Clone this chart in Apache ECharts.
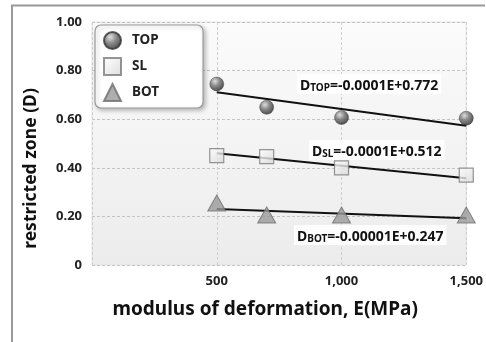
<!DOCTYPE html>
<html><head><meta charset="utf-8">
<script src="https://cdn.jsdelivr.net/npm/echarts@6/dist/echarts.min.js"></script>
<style>html,body{margin:0;padding:0;background:#fff}#c{width:486px;height:342px}</style>
</head><body><div id="c"></div>
<script>
const categoriesE = [500, 700, 1000, 1500];
const topValues = [0.745, 0.649, 0.607, 0.604];
const slValues = [0.450, 0.446, 0.400, 0.370];
const botValues = [0.255, 0.206, 0.206, 0.206];
const trendE = [500, 1500];
const topTrend = [0.711, 0.573];
const slTrend = [0.460, 0.357];
const botTrend = [0.230, 0.192];
const yTicks = [0, 0.2, 0.4, 0.6, 0.8, 1.0];
const xTicks = [500, 1000, 1500];

const FONT = '"Noto Sans", "Open Sans", sans-serif';
const pair = (xs, ys) => xs.map((x, i) => [x, ys[i]]);

const sphere = {type:'radial', x:0.38, y:0.32, r:0.75, colorStops:[
  {offset:0, color:'#d8d8d8'}, {offset:0.45, color:'#6a6a6a'}, {offset:1, color:'#1a1a1a'}]};
const sqFill = {type:'linear', x:0, y:0, x2:1, y2:1, colorStops:[
  {offset:0, color:'#ffffff'}, {offset:1, color:'#d6d6d6'}]};

const chart = echarts.init(document.getElementById('c'), null, {renderer:'canvas'});
const option = {
  animation:false,
  backgroundColor:'#fff',
  grid:{left:92, right:16, top:22, bottom:77, show:true, borderWidth:1, borderColor:'#e2e2e2',
    backgroundColor:{type:'linear', x:0, y:0, x2:0, y2:1, colorStops:[
      {offset:0, color:'#fbfbfb'}, {offset:1, color:'#ececec'}]}},
  xAxis:{type:'value', min:0, max:1500, interval:500,
    axisLine:{show:false}, axisTick:{show:false},
    splitLine:{show:true, lineStyle:{color:'#cfcfcf', type:[3,2], width:1}},
    axisLabel:{margin:10, fontFamily:FONT, fontWeight:'bold', fontSize:13, color:'#222',
      formatter:v => xTicks.includes(v) ? v.toLocaleString('en-US') : ''},
    name:'modulus of deformation, E(MPa)', nameLocation:'middle', nameGap:35,
    nameTextStyle:{fontFamily:FONT, fontWeight:'bold', fontSize:19, color:'#111', padding:[0,0,0,-28]}},
  yAxis:{type:'value', min:0, max:1, interval:0.2,
    axisLine:{show:false}, axisTick:{show:false},
    splitLine:{show:true, lineStyle:{color:'#c4c4c4', type:[3,2], width:1}},
    axisLabel:{margin:10, fontFamily:FONT, fontWeight:'bold', fontSize:13, color:'#222',
      formatter:v => { const t = yTicks.find(k => Math.abs(k - v) < 1e-6); return t === 0 ? '0' : (t !== undefined ? t.toFixed(2) : ''); }},
    name:'restricted zone (D)', nameLocation:'middle', nameGap:52,
    nameTextStyle:{fontFamily:FONT, fontWeight:'bold', fontSize:17.5, color:'#111', padding:[0,50,0,0]}},
  legend:{left:95, top:25, orient:'vertical', data:['TOP','SL','BOT'],
    backgroundColor:'#fff', borderColor:'#9a9a9a', borderWidth:1.2, borderRadius:6,
    shadowColor:'rgba(0,0,0,0.25)', shadowBlur:4, shadowOffsetX:2, shadowOffsetY:2,
    padding:[6,44,6,8], itemGap:7, itemWidth:17, itemHeight:17,
    textStyle:{fontFamily:FONT, fontWeight:'bold', fontSize:13.5, color:'#222', padding:[0,0,0,6]}},
  series:[
    {name:'TOP', type:'scatter', data:pair(categoriesE, topValues), symbol:'circle', symbolSize:14,
      itemStyle:{color:sphere, borderColor:'#333', borderWidth:0.5}, z:5},
    {name:'SL', type:'scatter', data:pair(categoriesE, slValues), symbol:'rect', symbolSize:14,
      itemStyle:{color:sqFill, borderColor:'#7a7a7a', borderWidth:1.2}, z:5},
    {name:'BOT', type:'scatter', data:pair(categoriesE, botValues), symbol:'triangle', symbolSize:[18,16],
      itemStyle:{color:'#9a9a9a', borderColor:'#6e6e6e', borderWidth:1}, z:5},
    {name:'topTrend', type:'line', data:pair(trendE, topTrend), showSymbol:false, symbol:'none',
      lineStyle:{color:'#111', width:2}, z:4, silent:true},
    {name:'slTrend', type:'line', data:pair(trendE, slTrend), showSymbol:false, symbol:'none',
      lineStyle:{color:'#111', width:2}, z:4, silent:true},
    {name:'botTrend', type:'line', data:pair(trendE, botTrend), showSymbol:false, symbol:'none',
      lineStyle:{color:'#111', width:2}, z:4, silent:true}
  ],
  graphic:[]
};
chart.setOption(option);

function eq(x, y, sub, rest) {
  return {type:'text', left:x, top:y, z:10, style:{
    text:'{d|D}{s|' + sub + '}{d|' + rest + '}',
    backgroundColor:'rgba(255,255,255,0.85)', padding:[1,3],
    rich:{
      d:{fontFamily:FONT, fontWeight:'bold', fontSize:14, fill:'#111', verticalAlign:'bottom', lineHeight:18},
      s:{fontFamily:FONT, fontWeight:'bold', fontSize:10, fill:'#111', verticalAlign:'bottom', lineHeight:15}
    }}};
}
chart.setOption({graphic:[
  {type:'line', shape:{x1:11, y1:5.5, x2:485, y2:5.5}, style:{stroke:'#999', lineWidth:2}},
  {type:'line', shape:{x1:12, y1:5, x2:12, y2:342}, style:{stroke:'#999', lineWidth:2}},
  eq(297, 74, 'TOP', '=-0.0001E+0.772'),
  eq(309, 140, 'SL', '=-0.0001E+0.512'),
  eq(294, 225, 'BOT', '=-0.00001E+0.247')
]});
</script></body></html>
